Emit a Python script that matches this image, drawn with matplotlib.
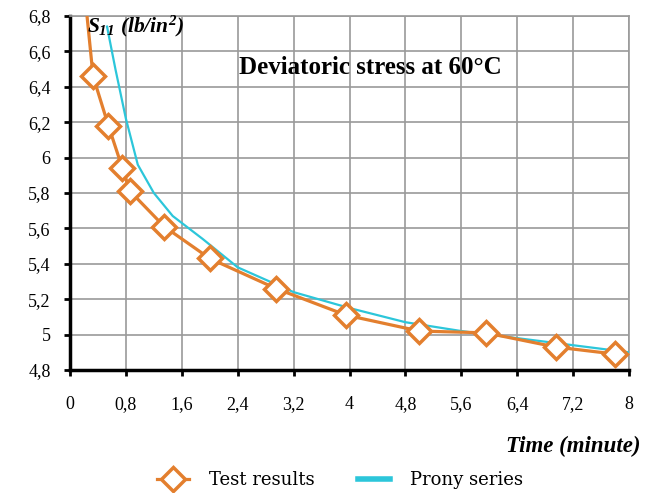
import matplotlib
matplotlib.use('Agg')
import matplotlib.pyplot as plt
from matplotlib.lines import Line2D

# test results (time in minutes, S11 in lb/in2)
test_time = [0.18, 0.33, 0.55, 0.75, 0.86, 1.35, 2.0, 2.95, 3.95, 5.0, 5.95, 6.95, 7.8]
test_s11 = [7.05, 6.46, 6.18, 5.94, 5.81, 5.61, 5.43, 5.26, 5.11, 5.02, 5.01, 4.93, 4.89]

# prony series fit
prony_time = [0.53, 0.65, 0.8, 0.97, 1.2, 1.47, 1.9, 2.4, 3.2, 4.0, 4.8, 5.6, 6.4, 7.2, 8.0]
prony_s11 = [6.74, 6.5, 6.22, 5.96, 5.8, 5.67, 5.54, 5.38, 5.24, 5.15, 5.07, 5.02, 4.98, 4.94, 4.90]

x_ticks = [0, 0.8, 1.6, 2.4, 3.2, 4, 4.8, 5.6, 6.4, 7.2, 8]
y_ticks = [4.8, 5.0, 5.2, 5.4, 5.6, 5.8, 6.0, 6.2, 6.4, 6.6, 6.8]

ORANGE = '#E37F2E'
CYAN = '#2CC6DA'
SERIF = ['Liberation Serif', 'DejaVu Serif']

plt.rcParams['mathtext.fontset'] = 'custom'
plt.rcParams['mathtext.rm'] = 'Liberation Serif:bold:italic'
plt.rcParams['mathtext.it'] = 'Liberation Serif:bold:italic'
plt.rcParams['mathtext.bf'] = 'Liberation Serif:bold:italic'


def fmt(v):
    return ('%g' % round(v, 1)).replace('.', ',')


fig = plt.figure(figsize=(6.55, 4.93), dpi=100)
ax = fig.add_axes([70 / 655, 1 - 370 / 493, 559 / 655, 354 / 493])

ax.plot(prony_time, prony_s11, color=CYAN, lw=1.6, zorder=3)
ax.plot(test_time, test_s11, color=ORANGE, lw=2.3, marker='D', ms=12,
        mfc='white', mec=ORANGE, mew=2.5, zorder=4)

ax.set_xlim(0, 8)
ax.set_ylim(4.8, 6.8)
ax.set_xticks(x_ticks)
ax.set_yticks(y_ticks)
ax.set_xticklabels([fmt(v) for v in x_ticks], family=SERIF, fontsize=13)
ax.set_yticklabels([fmt(v) for v in y_ticks], family=SERIF, fontsize=13)
ax.tick_params(axis='both', direction='out', length=4, width=2, color='black')
ax.tick_params(axis='x', pad=15)
ax.tick_params(axis='y', pad=10)

ax.grid(True, color='#9a9a9a', lw=1.2)
ax.set_axisbelow(True)
for side in ['top', 'right']:
    ax.spines[side].set_color('#9a9a9a')
    ax.spines[side].set_linewidth(1.2)
for side in ['left', 'bottom']:
    ax.spines[side].set_color('black')
    ax.spines[side].set_linewidth(2.5)

ax.text(0.24, 6.815, r'$S_{11}\ (lb/in^{2})$', fontsize=15.5, va='top', ha='left', zorder=5)
ax.text(4.3, 6.51, 'Deviatoric stress at 60°C', family=SERIF, fontsize=18,
        fontweight='bold', va='center', ha='center')

fig.text(640 / 655, 1 - 446 / 493, 'Time (minute)', family=SERIF, fontsize=16.5,
         fontweight='bold', style='italic', ha='right', va='center')

handles = [
    Line2D([], [], color=ORANGE, lw=2.3, marker='D', ms=12, mfc='white', mec=ORANGE, mew=2.5),
    Line2D([], [], color=CYAN, lw=4),
]
fig.legend(handles, ['Test results', 'Prony series'], loc='center',
           bbox_to_anchor=(340 / 655, 1 - 480 / 493), ncol=2, frameon=False,
           prop={'family': 'DejaVu Serif', 'size': 13}, handlelength=1.8,
           columnspacing=2.4, handletextpad=1.1)

fig.savefig('out.png', dpi=100)
